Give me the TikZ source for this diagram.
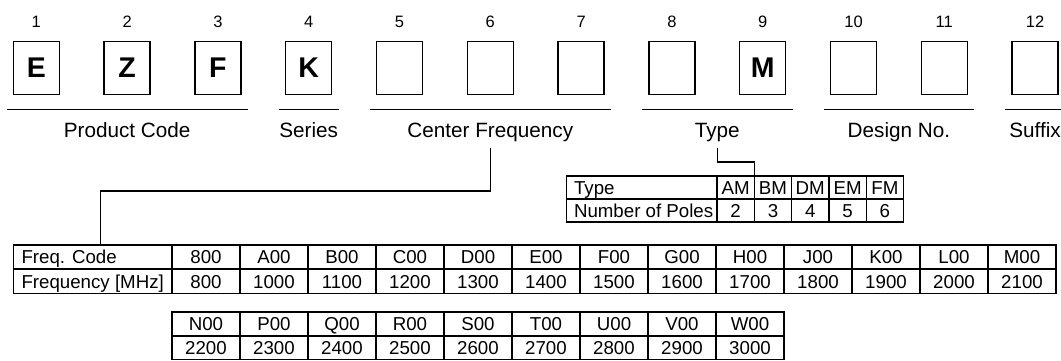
\documentclass[tikz,border=0pt]{standalone}
\usepackage{fontspec}
\setmainfont{Liberation Sans}
\usetikzlibrary{calc}
\begin{document}
\begin{tikzpicture}[x=1pt,y=-1pt,
  every node/.style={inner sep=0pt, outer sep=0pt},
  digit/.style={anchor=base, font=\fontsize{16.5}{18}\selectfont},
  codebox/.style={draw, line width=1.4pt, minimum width=46pt, minimum height=53pt, font=\fontsize{28.5}{30}\selectfont\bfseries},
  grp/.style={anchor=base, font=\fontsize{20.7}{22}\selectfont},
  uline/.style={line width=1.6pt},
  link/.style={line width=1.4pt},
  grid/.style={line width=1.4pt},
  tc/.style={anchor=base, font=\fontsize{18.7}{20}\selectfont},
  tl/.style={anchor=base west, font=\fontsize{18.7}{20}\selectfont}
]
\useasboundingbox (0,0) rectangle (1061,360);

% code boxes
\node[codebox] (b1)  at (36.3,67.8)   {E};
\node[codebox] (b2)  at (127.1,67.8)  {Z};
\node[codebox] (b3)  at (217.9,67.8)  {F};
\node[codebox] (b4)  at (308.7,67.8)  {K};
\node[codebox] (b5)  at (399.5,67.8)  {};
\node[codebox] (b6)  at (490.3,67.8)  {};
\node[codebox] (b7)  at (581.1,67.8)  {};
\node[codebox] (b8)  at (671.9,67.8)  {};
\node[codebox] (b9)  at (762.7,67.8)  {M};
\node[codebox] (b10) at (853.5,67.8)  {};
\node[codebox] (b11) at (944.3,67.8)  {};
\node[codebox] (b12) at (1035.1,67.8) {};

% position numbers
\foreach \i in {1,...,12}{
  \node[digit] (n\i) at ({36.3+(\i-1)*90.8},27) {\i};
}

% group underlines
\draw[uline] ($(b1.south west)+(-6.8,15)$) -- ($(b3.south east)+(6.8,15)$);
\draw[uline] ($(b4.south west)+(-6.8,15)$) -- ($(b4.south east)+(6.8,15)$);
\draw[uline] ($(b5.south west)+(-6.8,15)$) -- ($(b7.south east)+(6.8,15)$);
\draw[uline] ($(b8.south west)+(-6.8,15)$) -- ($(b9.south east)+(6.8,15)$);
\draw[uline] ($(b10.south west)+(-6.8,15)$) -- ($(b11.south east)+(6.8,15)$);
\draw[uline] ($(b12.south west)+(-6.8,15)$) -- ($(b12.south east)+(6.8,15)$);

% group labels
\node[grp] (lpc)   at (127.1,137) {Product Code};
\node[grp] (lser)  at (308.7,137) {Series};
\node[grp] (lcf)   at (490.3,137) {Center Frequency};
\node[grp] (ltype) at (717.3,137) {Type};
\node[grp] (ldn)   at (898.9,137) {Design No.};
\node[grp] (lsuf)  at (1035.1,137) {Suffix};

% small type table
\draw[grid] (566.7,176) rectangle (903.5,222);
\draw[grid] (566.7,199) -- (903.5,199);
\foreach \k in {0,...,4}{
  \draw[grid] ({717+\k*37.3},176) -- ({717+\k*37.3},222);
}
\node[tl] (ttype)  at (574,194.2) {Type};
\node[tl] (tpoles) at (574,217.2) {Number of Poles};
\foreach \t [count=\k from 0] in {AM,BM,DM,EM,FM}{
  \node[tc] (tt\k) at ({717+(\k+0.5)*37.3},194.2) {\t};
}
\foreach \t [count=\k from 0] in {2,3,4,5,6}{
  \node[tc] (tp\k) at ({717+(\k+0.5)*37.3},217.2) {\t};
}

% main frequency table
\draw[grid] (13.3,245) rectangle (1056,293.5);
\draw[grid] (13.3,269) -- (1056,269);
\foreach \k in {0,...,12}{
  \draw[grid] ({172+\k*68},245) -- ({172+\k*68},293.5);
}
\node[tl] (fclab) at (21.5,263.7) {Freq. Code};
\node[tl] (fqlab) at (21.5,288) {Frequency [MHz]};
\foreach \t [count=\k from 0] in {800,A00,B00,C00,D00,E00,F00,G00,H00,J00,K00,L00,M00}{
  \node[tc] (fc\k) at ({172+(\k+0.5)*68},263.7) {\t};
}
\foreach \t [count=\k from 0] in {800,1000,1100,1200,1300,1400,1500,1600,1700,1800,1900,2000,2100}{
  \node[tc] (fq\k) at ({172+(\k+0.5)*68},288) {\t};
}

% continuation table
\draw[grid] (172,312) rectangle (784,359.2);
\draw[grid] (172,336) -- (784,336);
\foreach \k in {1,...,8}{
  \draw[grid] ({172+\k*68},312) -- ({172+\k*68},359.2);
}
\foreach \t [count=\k from 0] in {N00,P00,Q00,R00,S00,T00,U00,V00,W00}{
  \node[tc] (gc\k) at ({172+(\k+0.5)*68},330.7) {\t};
}
\foreach \t [count=\k from 0] in {2200,2300,2400,2500,2600,2700,2800,2900,3000}{
  \node[tc] (gq\k) at ({172+(\k+0.5)*68},354.4) {\t};
}

% connectors
\coordinate (cfend) at (100.7,245);
\coordinate (tyend) at (754.3,176);
\draw[link] ([yshift=-6.7pt]lcf.south) -- ++(0,43) -| (cfend);
\draw[link] ([yshift=-6.7pt]ltype.south) -- ++(0,14) -| (tyend);
\end{tikzpicture}
\end{document}
